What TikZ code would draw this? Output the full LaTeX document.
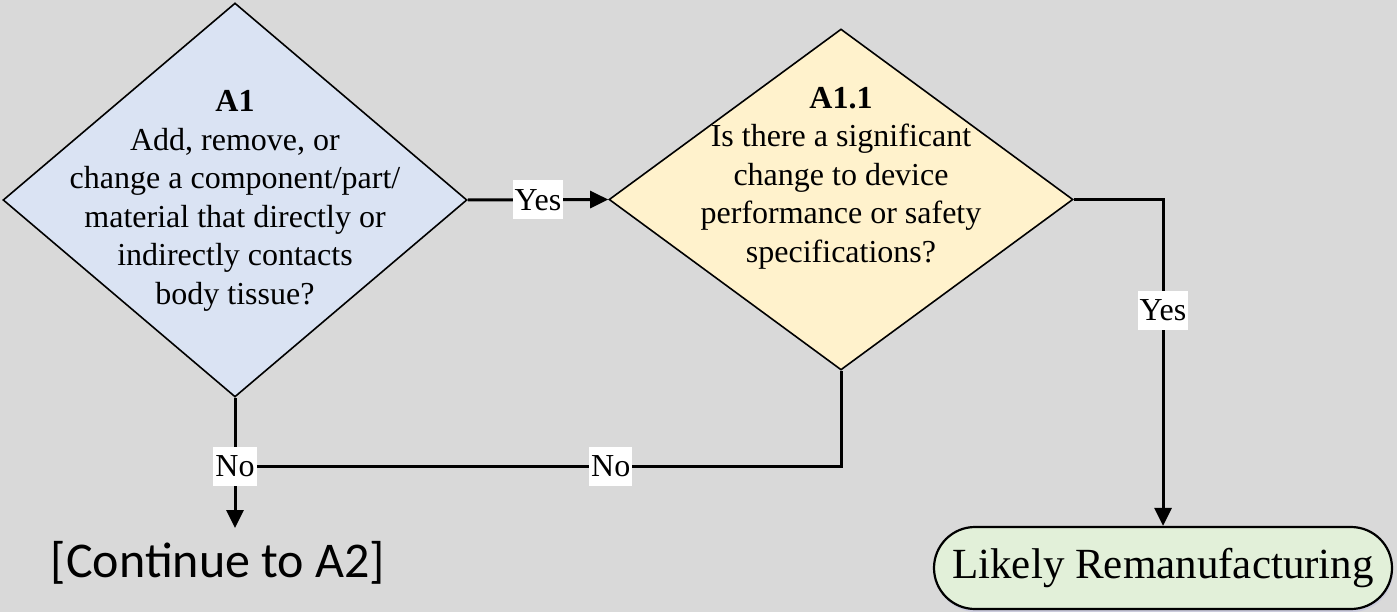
\documentclass[tikz,border=0pt]{standalone}
\usepackage{fontspec}
\setmainfont{Liberation Serif}
\newfontfamily\calibrifont{Carlito}
\usetikzlibrary{shapes.geometric,arrows.meta,shadows}
\definecolor{bgc}{HTML}{D9D9D9}
\definecolor{bluec}{HTML}{DAE3F3}
\definecolor{yellowc}{HTML}{FFF2CC}
\definecolor{greenc}{HTML}{E2F0D9}
\tikzset{
  diam/.style={diamond, draw=black, line width=1.6pt, inner sep=0pt, minimum width=464pt},
  dtext/.style={align=center, inner sep=0pt, font=\fontsize{32}{38.5}\selectfont},
  conn/.style={line width=3pt, draw=black},
  arr/.style={conn, -{Triangle[length=18pt,width=17pt]}},
  lbl/.style={fill=white, inner xsep=2pt, inner ysep=0pt, minimum height=39pt, font=\fontsize{32}{38}\selectfont},
  termbox/.style={draw=black, line width=2.2pt, fill=greenc, rounded corners=41pt, minimum width=458pt, minimum height=82pt, inner sep=0pt, font=\fontsize{43}{50}\selectfont,
    drop shadow={shadow xshift=1pt, shadow yshift=-3pt, fill=black!35!blue!30, opacity=0.35}}
}
\begin{document}
\begin{tikzpicture}[x=1pt,y=-1pt]
\fill[bgc] (0,0) rectangle (1397,612);
\useasboundingbox (0,0) rectangle (1397,612);

\node[diam, fill=bluec, minimum height=394pt] (a1) at (235,200) {};
\node[dtext] (a1t) at (235,201) {\textbf{A1}\\Add, remove, or\\change a component/part/\\material that directly or\\indirectly contacts\\body tissue?};

\node[diam, fill=yellowc, minimum height=341pt] (a11) at (841,199.5) {};
\node[dtext] (a11t) at (841,178) {\textbf{A1.1}\\Is there a significant\\change to device\\performance or safety\\specifications?};

\node[termbox] (term) at (1163,568) {Likely Remanufacturing};

\node[anchor=base, inner sep=0pt, font=\calibrifont\fontsize{50}{60}\selectfont] (cont) at (218,577) {[Continue to A2]};

\coordinate (c2) at (235,528);
\coordinate (j) at (235,466);

\draw[arr] (a1.east) -- node[lbl] {Yes} (a11.west);
\draw[arr] (a11.east) -| node[lbl, pos=0.67] {Yes} (term.north);
\draw[conn] (a11.south) |- node[lbl, pos=0.69] {No} (j);
\draw[arr] (a1.south) -- (c2);
\node[lbl] (no1) at (j) {No};
\end{tikzpicture}
\end{document}
